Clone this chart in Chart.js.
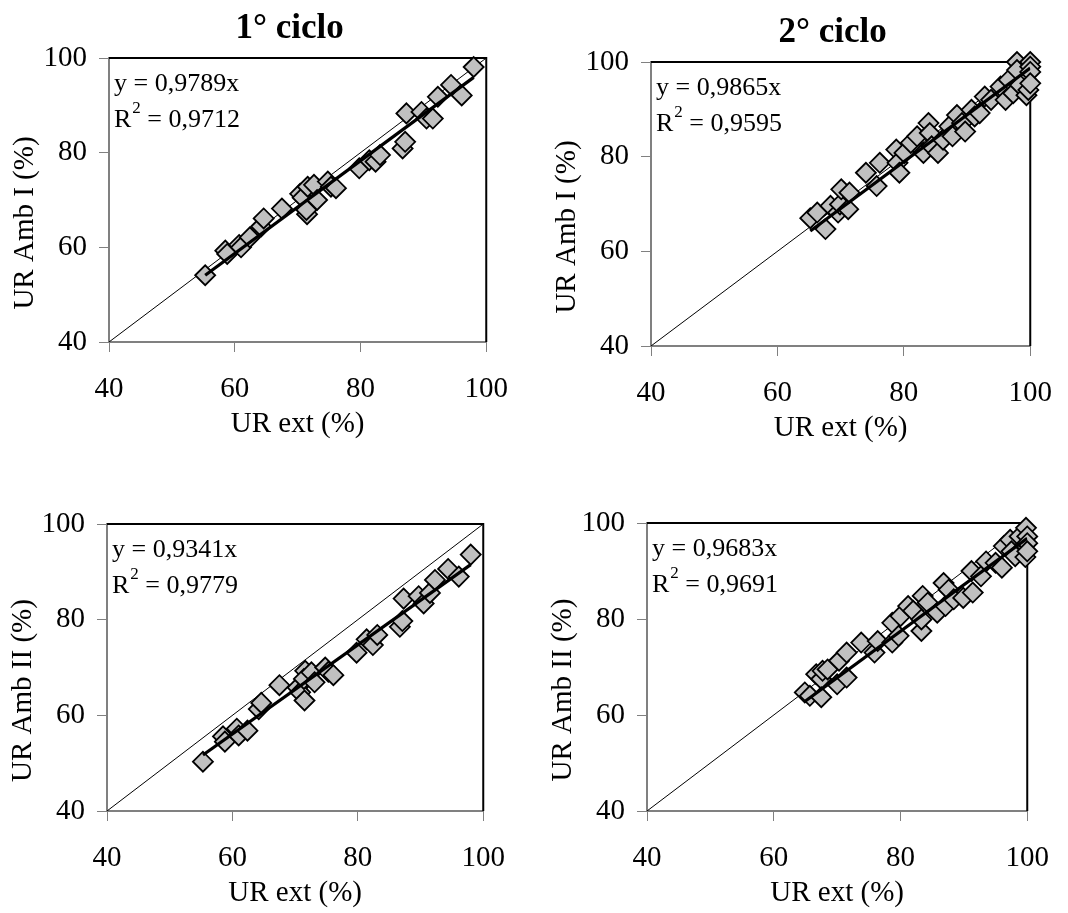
<!DOCTYPE html>
<html>
<head>
<meta charset="utf-8">
<script src="https://cdn.jsdelivr.net/npm/chart.js@4.4.1/dist/chart.umd.min.js"></script>
<style>
body { margin: 0; background: #fff; width: 1068px; height: 913px; position: relative; overflow: hidden; }
canvas { position: absolute; }
</style>
</head>
<body>
<canvas id="c1"></canvas>
<canvas id="c2"></canvas>
<canvas id="c3"></canvas>
<canvas id="c4"></canvas>
<script>
// 1° ciclo - UR ext shared by both rooms
const urExt1 = [55.3, 58.5, 58.8, 60.7, 61.0, 62.4, 64.2, 64.6, 67.5, 70.4, 70.8, 71.5, 71.6, 71.4, 72.6, 73.1, 74.8, 75.3, 76.1, 79.8, 81.4, 82.4, 83.1, 86.7, 87.1, 87.3, 89.7, 90.5, 91.5, 92.3, 94.4, 96.1, 98.0];
const urAmbI1 = [54.1, 59.3, 58.6, 60.5, 60.0, 62.1, 64.4, 66.1, 68.2, 71.3, 70.5, 67.0, 72.8, 67.9, 73.2, 70.0, 73.9, 72.8, 72.5, 76.7, 78.4, 78.1, 79.5, 80.9, 82.3, 88.3, 88.6, 87.2, 87.2, 91.8, 94.3, 92.1, 98.1];
const urAmbII1 = [50.3, 55.6, 54.5, 57.2, 55.8, 56.8, 61.3, 62.6, 66.3, 65.8, 64.8, 63.1, 69.3, 67.6, 69.0, 66.9, 70.0, 69.1, 68.4, 73.1, 75.9, 74.7, 76.8, 78.5, 79.7, 84.4, 84.9, 83.4, 85.6, 88.3, 90.6, 89.0, 93.6];

// 2° ciclo
const urExt2I = [65.2, 66.3, 67.6, 68.4, 69.6, 69.9, 70.1, 71.2, 71.4, 74.0, 75.7, 76.2, 78.8, 79.0, 79.3, 80.1, 81.1, 82.1, 83.1, 83.9, 84.1, 84.4, 85.4, 86.2, 87.2, 87.7, 88.4, 89.2, 89.7, 90.7, 91.2, 92.0, 92.8, 93.8, 95.3, 96.1, 96.6, 97.3, 97.9, 97.9, 98.4, 99.4, 99.7, 100, 100, 100, 100];
const urAmbI2 = [67.0, 68.2, 64.7, 69.6, 68.2, 69.9, 73.1, 68.9, 72.4, 76.6, 73.8, 78.7, 81.5, 78.7, 76.6, 80.8, 82.9, 84.3, 80.8, 87.1, 85.0, 82.2, 80.8, 83.6, 86.4, 84.3, 88.8, 87.1, 85.3, 89.9, 88.5, 89.2, 92.7, 92.0, 94.8, 92.0, 96.2, 93.4, 100.0, 98.3, 95.1, 93.0, 94.1, 100.0, 99.0, 97.9, 95.5];
const urExt2II = [64.9, 65.7, 66.7, 67.5, 67.5, 67.7, 68.5, 70.0, 70.3, 71.5, 71.5, 73.8, 75.9, 76.4, 78.7, 78.7, 79.7, 80.0, 81.2, 82.0, 83.3, 83.3, 83.5, 84.3, 85.8, 86.8, 87.1, 87.6, 88.4, 89.9, 91.2, 91.4, 92.7, 93.5, 95.0, 96.0, 96.3, 97.3, 97.5, 98.1, 98.8, 99.7, 99.8, 100, 100, 100];
const urAmbII2 = [64.7, 64.0, 68.5, 67.5, 63.7, 69.2, 69.5, 66.4, 71.3, 73.0, 67.8, 75.1, 73.0, 75.4, 75.1, 79.2, 76.5, 80.6, 82.7, 81.7, 77.5, 79.9, 84.8, 83.4, 81.3, 87.5, 82.7, 86.1, 84.1, 84.4, 90.0, 85.5, 88.9, 92.0, 91.7, 90.7, 95.2, 96.5, 94.1, 93.1, 97.2, 92.9, 99.0, 97.2, 95.8, 94.1];

// trend line ends
const fitX1 = [55.3, 98.0], fitY1 = [54.1, 95.9];
const fitX2 = [65.2, 100], fitY2 = [64.3, 98.7];
const fitX3 = [55.3, 98.0], fitY3 = [51.7, 91.5];
const fitX4 = [64.9, 100], fitY4 = [62.8, 96.8];
const oneToOne = [40, 100];
const axisTicks = [40, 60, 80, 100];

const SERIF = '"Liberation Serif", "Times New Roman", serif';

function pts(xs, ys) { return xs.map((x, i) => ({ x: x, y: ys[i] })); }

const panelText = {
    id: 'panelText',
    beforeDatasetsDraw(chart) {
        const { ctx, chartArea: a } = chart;
        ctx.save();
        ctx.strokeStyle = '#000'; ctx.lineWidth = 2;
        ctx.beginPath();
        ctx.moveTo(a.left, a.top); ctx.lineTo(a.right, a.top); ctx.lineTo(a.right, a.bottom);
        ctx.stroke();
        ctx.restore();
    },
    afterDraw(chart) {
        const o = chart.options.plugins.panelText;
        const { ctx, chartArea: a } = chart;
        ctx.save();
        ctx.fillStyle = '#000';
        ctx.textBaseline = 'middle';
        // panel title
        if (o.title) {
            ctx.font = 'bold 35px ' + SERIF;
            ctx.textAlign = 'center';
            ctx.fillText(o.title, (a.left + a.right) / 2 - 8, a.top - 29);
        }
        // y axis title
        ctx.save();
        ctx.font = '29px ' + SERIF;
        ctx.textAlign = 'center';
        ctx.translate(a.left - 84, (a.top + a.bottom) / 2 + 23);
        ctx.rotate(-Math.PI / 2);
        ctx.fillText(o.yTitle, 0, 0);
        ctx.restore();
        // equation + R2
        ctx.textAlign = 'left';
        ctx.font = '26px ' + SERIF;
        const x0 = a.left + 5;
        ctx.fillText('y = ' + o.slope + 'x', x0, a.top + 26);
        const y2 = a.top + 62;
        ctx.fillText('R', x0, y2);
        let w = ctx.measureText('R').width;
        ctx.font = '17px ' + SERIF;
        ctx.fillText('2', x0 + w + 1, y2 - 11);
        w += ctx.measureText('2').width + 1;
        ctx.font = '26px ' + SERIF;
        ctx.fillText(' = ' + o.r2, x0 + w, y2);
        ctx.restore();
    }
};

function makePanel(id, L, T, R, B, xs, ys, fx, fy, text) {
    const cv = document.getElementById(id);
    const padL = 110, padT = 58, padR = 30, padB = 105;
    cv.width = R - L + padL + padR;
    cv.height = B - T + padT + padB;
    cv.style.left = (L - padL) + 'px';
    cv.style.top = (T - padT) + 'px';

    new Chart(cv, {
        type: 'scatter',
        data: {
            datasets: [
                { type: 'line', data: pts(oneToOne, oneToOne), borderColor: '#000', borderWidth: 1, pointRadius: 0, order: 3 },
                { data: pts(xs, ys), pointStyle: 'rectRot', pointRadius: 10, backgroundColor: '#C0C0C0', borderColor: '#000', borderWidth: 1.8, clip: false, order: 2 },
                { type: 'line', data: pts(fx, fy), borderColor: '#000', borderWidth: 3.2, pointRadius: 0, order: 1 }
            ]
        },
        options: {
            responsive: false,
            animation: false,
            layout: { padding: { left: 0, top: padT, right: padR, bottom: 5 } },
            plugins: { legend: { display: false }, tooltip: { enabled: false }, panelText: text },
            scales: {
                x: {
                    min: 40, max: 100,
                    afterBuildTicks: s => { s.ticks = axisTicks.map(v => ({ value: v })); },
                    afterFit: s => { s.height = 100; },
                    grid: { drawOnChartArea: false, drawTicks: true, tickLength: 10, color: '#808080', lineWidth: 1 },
                    border: { color: '#808080', width: 2 },
                    ticks: { color: '#000', padding: 20, maxRotation: 0, font: { family: SERIF, size: 29 } },
                    title: { display: true, text: 'UR ext (%)', color: '#000', padding: { top: 0, bottom: 0 }, font: { family: SERIF, size: 29 } }
                },
                y: {
                    min: 40, max: 100,
                    afterBuildTicks: s => { s.ticks = axisTicks.map(v => ({ value: v })); },
                    afterFit: s => { s.width = padL; },
                    grid: { drawOnChartArea: false, drawTicks: true, tickLength: 10, color: '#808080', lineWidth: 1 },
                    border: { color: '#808080', width: 2 },
                    ticks: { color: '#000', padding: 12, font: { family: SERIF, size: 29 } }
                }
            }
        },
        plugins: [panelText]
    });
}

makePanel('c1', 109, 58, 498, 342, urExt1, urAmbI1, fitX1, fitY1, { title: '1° ciclo', yTitle: 'UR Amb I (%)', slope: '0,9789', r2: '0,9712' });
makePanel('c2', 651, 62, 1042, 346, urExt2I, urAmbI2, fitX2, fitY2, { title: '2° ciclo', yTitle: 'UR Amb I (%)', slope: '0,9865', r2: '0,9595' });
makePanel('c3', 107, 524, 495, 811, urExt1, urAmbII1, fitX3, fitY3, { yTitle: 'UR Amb II (%)', slope: '0,9341', r2: '0,9779' });
makePanel('c4', 647, 523, 1039, 811, urExt2II, urAmbII2, fitX4, fitY4, { yTitle: 'UR Amb II (%)', slope: '0,9683', r2: '0,9691' });
</script>
</body>
</html>
